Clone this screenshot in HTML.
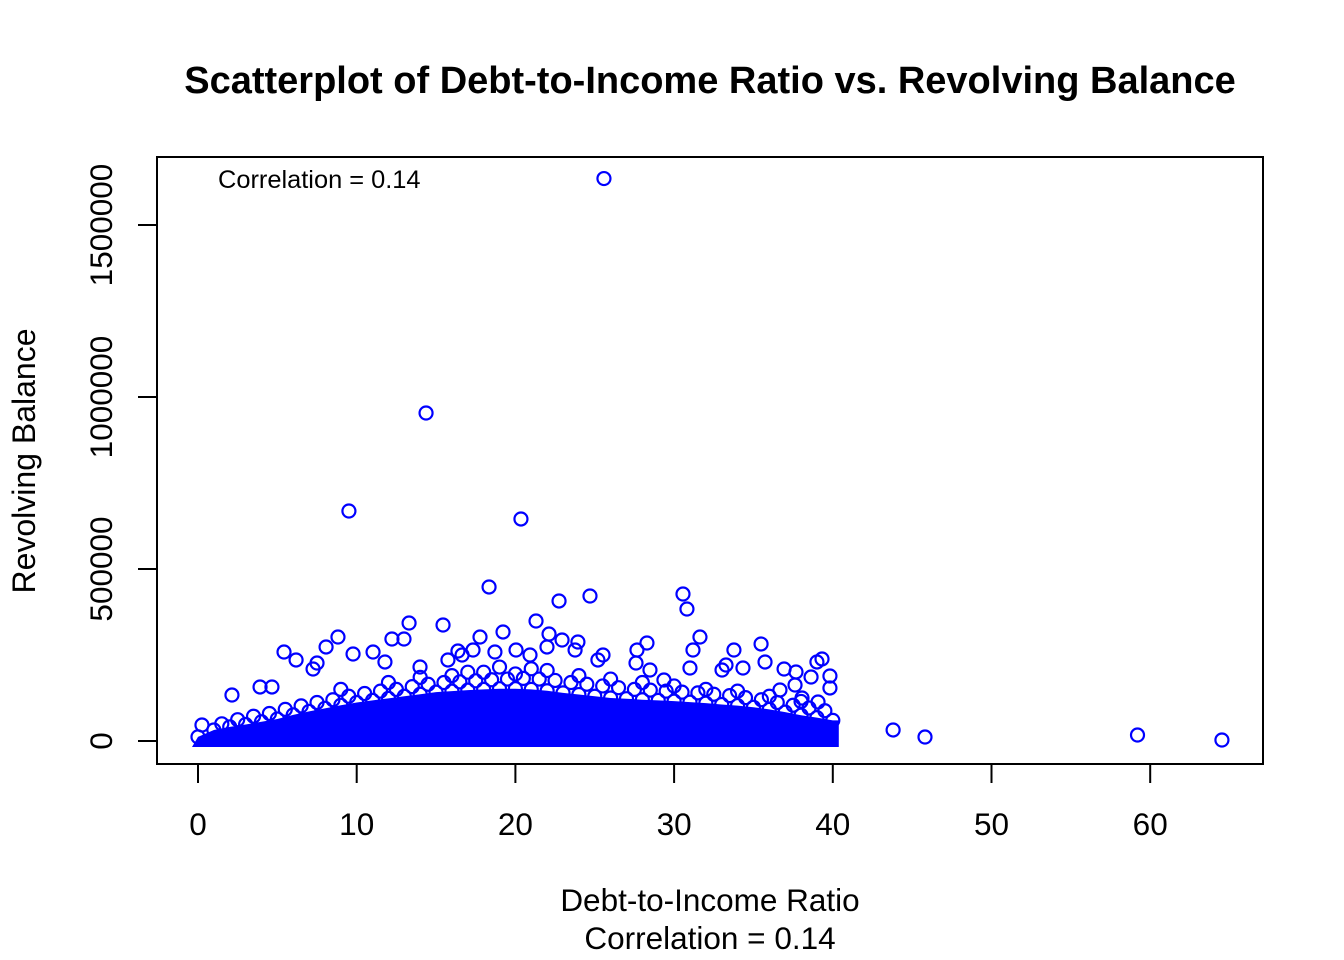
<!DOCTYPE html>
<html><head><meta charset="utf-8"><style>
body{margin:0;background:#fff}
svg{display:block;font-family:"Liberation Sans",Arial,sans-serif}
</style></head><body>
<svg id="chart" width="1344" height="960" xmlns="http://www.w3.org/2000/svg">
<text x="710" y="93" text-anchor="middle" font-size="38" font-weight="bold">Scatterplot of Debt-to-Income Ratio vs. Revolving Balance</text>
<rect x="157" y="157" width="1106" height="607" fill="none" stroke="#000" stroke-width="2"/>
<text x="218" y="188" font-size="25.4">Correlation = 0.14</text>
<text x="710" y="911" text-anchor="middle" font-size="31.5">Debt-to-Income Ratio</text>
<text x="710" y="949" text-anchor="middle" font-size="31.5">Correlation = 0.14</text>
<text transform="translate(35,461) rotate(-90)" text-anchor="middle" font-size="32">Revolving Balance</text>
<g id="axes"></g>
<g id="marks"></g>
</svg>
<script>
const xTicks=[0,10,20,30,40,50,60];
const yTicks=[0,500000,1000000,1500000];
const yTickLabels=["0","500000","1000000","1500000"];
// dense band: max balance per DTI column
const bandDti=[0,1,2,3,4,5,6,7,8,9,10,11,12,13,14,15,16,17,18,19,20,21,22,23,24,25,26,27,28,29,30,31,32,33,34,35,36,37,38,39,40];
const bandMax=[12000,32000,41000,48000,56000,64000,76000,86000,95000,104000,112000,118000,124000,130000,136000,142000,145000,148000,150000,152000,152000,150000,146000,140000,135000,130000,125000,123000,120000,118000,116000,113000,110000,106000,103000,98000,92000,84000,75000,68000,60000];
// individual outliers
const dti=[25.58,14.37,9.51,20.35,18.34,30.56,22.75,24.70,30.81,21.30,13.30,15.44,5.42,8.82,8.07,31.63,28.29,35.48,33.77,39.32,39.82,37.68,39.00,38.63,36.93,35.73,34.34,33.27,25.52,23.94,22.12,19.22,17.77,16.38,12.22,12.98,11.03,9.77,7.50,7.25,4.66,2.14,3.91,6.18,27.60,28.48,31.00,33.02,11.78,13.99,15.75,17.33,16.64,18.71,20.04,20.92,21.99,22.94,23.76,25.20,27.66,29.36,31.19,36.67,37.62,38.06,39.07,39.82,43.8,45.81,59.2,64.52,0.25,
 1.5,2.5,3.5,4.5,5.5,6.5,7.5,8.5,9.5,10.5,11.5,12.5,13.5,14.5,15.5,16.5,17.5,18.5,19.5,20.5,21.5,22.5,23.5,24.5,25.5,26.5,27.5,28.5,29.5,30.5,31.5,32.5,33.5,34.5,35.5,36.5,37.5,38.5,39.5,
 9.0,12.0,14.0,16.0,18.0,20.0,22.0,24.0,26.0,28.0,30.0,32.0,34.0,36.0,38.0,21.0,19.0,17.0];
const bal=[1635000,953500,668600,645400,447700,427300,407000,421500,383700,348800,343000,337200,258700,302300,273300,302300,284900,282000,264500,238400,189000,200600,229700,186000,209300,229700,212200,220900,250000,287800,311000,316900,302300,261600,296500,296500,258700,252900,226700,209300,157000,133700,157000,235500,226700,206400,212200,206400,229700,215100,235500,264500,250000,258700,264500,250000,273300,293600,264500,235500,264500,177300,264500,148300,162800,125000,113400,154100,32000,11600,17400,2900,46500,
 50000,62000,72000,80000,92000,102000,112000,120000,130000,138000,145000,150000,158000,165000,170000,172000,175000,178000,180000,182000,180000,176000,170000,165000,160000,155000,150000,148000,145000,142000,140000,136000,132000,126000,120000,112000,104000,96000,88000,
 150000,170000,185000,190000,200000,195000,205000,190000,180000,170000,160000,150000,145000,130000,115000,210000,215000,200000];
const X=v=>198+v*15.87;
const Y=v=>741-v*172/500000;
const NS="http://www.w3.org/2000/svg";
const axes=document.getElementById('axes'),marks=document.getElementById('marks');
function mk(tag,attrs,parent){const e=document.createElementNS(NS,tag);for(const k in attrs)e.setAttribute(k,attrs[k]);parent.appendChild(e);return e;}
let l=mk('line',{x1:X(xTicks[0]),x2:X(xTicks[xTicks.length-1]),y1:764,y2:764,stroke:'#000','stroke-width':2},axes);


xTicks.forEach(t=>{
 const tk=mk('line',{x1:X(t),x2:X(t),y1:764,y2:783,stroke:'#000','stroke-width':2},axes);
 
 
 const tx=mk('text',{x:X(t),y:835,'text-anchor':'middle','font-size':31.5},axes);
 tx.textContent=t;
 
 
});
l=mk('line',{x1:157,x2:157,y1:Y(yTicks[0]),y2:Y(yTicks[yTicks.length-1]),stroke:'#000','stroke-width':2},axes);


yTicks.forEach((t,i)=>{
 const tk=mk('line',{x1:138,x2:157,y1:Y(t),y2:Y(t),stroke:'#000','stroke-width':2},axes);
 
 
 const tx=mk('text',{transform:`translate(112,${Y(t)}) rotate(-90)`,'text-anchor':'middle','font-size':31.5},axes);
 tx.textContent=yTickLabels[i];
 
 
});
let d=`M${X(bandDti[0])-6},${Y(0)+6}`;
bandDti.forEach((v,i)=>{d+=` L${X(v)},${Y(bandMax[i])}`;});
d+=` L${X(bandDti[bandDti.length-1])+6},${Y(bandMax[bandMax.length-1])} L${X(bandDti[bandDti.length-1])+6},${Y(0)+6} Z`;
const band=mk('path',{d:d,fill:'#0000ff'},marks);


bandDti.forEach((v,i)=>{
 const c=mk('circle',{cx:X(v),cy:Y(bandMax[i]),r:6.5,fill:'none',stroke:'#0000ff','stroke-width':2.2},marks);
 
 
});
dti.forEach((v,i)=>{
 const c=mk('circle',{cx:X(v),cy:Y(bal[i]),r:6.5,fill:'none',stroke:'#0000ff','stroke-width':2.2},marks);
 
 
});
</script>
</body></html>
